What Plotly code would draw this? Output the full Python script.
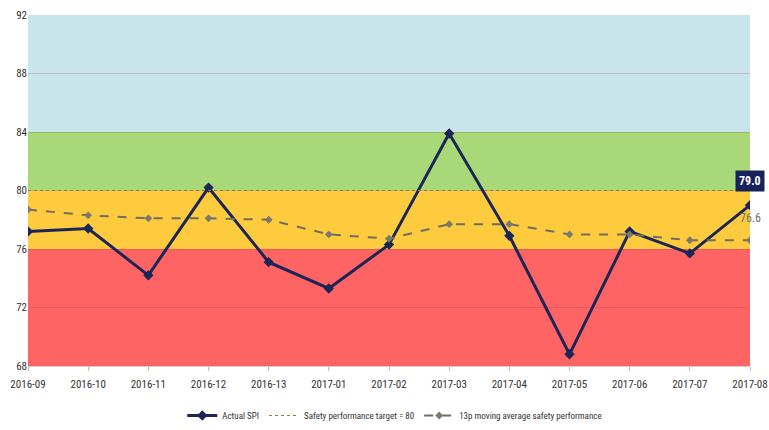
import plotly.graph_objects as go

# periods and series
periods = ["2016-09", "2016-10", "2016-11", "2016-12", "2016-13", "2017-01", "2017-02",
           "2017-03", "2017-04", "2017-05", "2017-06", "2017-07", "2017-08"]
actual_spi = [77.2, 77.4, 74.2, 80.2, 75.1, 73.3, 76.3, 83.9, 76.9, 68.8, 77.2, 75.7, 79.0]
moving_avg = [78.7, 78.3, 78.1, 78.1, 78.0, 77.0, 76.7, 77.7, 77.7, 77.0, 77.0, 76.6, 76.6]
target = [80] * len(periods)

# background performance bands (low, high, colour)
band_edges = [68, 76, 80, 84, 92]
band_colors = ["#FF6464", "#FFCB3E", "#A8D878", "#C8E5EC"]

FONT = "Liberation Sans Narrow, Arial Narrow, Roboto Condensed, Liberation Sans, sans-serif"

fig = go.Figure()

#* colour bands behind the data
for lo, hi, col in zip(band_edges[:-1], band_edges[1:], band_colors):
    fig.add_shape(type="rect", xref="paper", yref="y", x0=0, x1=1, y0=lo, y1=hi,
                  fillcolor=col, line_width=0, layer="below")

fig.add_trace(go.Scatter(x=periods, y=actual_spi, name="Actual SPI", mode="lines+markers",
                         line=dict(color="#1B2657", width=3),
                         marker=dict(symbol="diamond", size=8, color="#1B2657")))
fig.add_trace(go.Scatter(x=periods, y=target, name="Safety performance target = 80", mode="lines",
                         line=dict(color="#8A8040", width=1.2, dash="dot")))
fig.add_trace(go.Scatter(x=periods, y=moving_avg, name="13p moving average safety performance",
                         mode="lines+markers",
                         line=dict(color="#6E6E62", width=2, dash="dash"),
                         marker=dict(symbol="diamond", size=6, color="#7A7A6C")))

#! value labels for the last period
fig.add_annotation(x=periods[-1], y=80.65, text="<b>79.0</b>", showarrow=False,
                   font=dict(color="white", size=12, family=FONT),
                   bgcolor="#16235A", borderpad=3)
fig.add_annotation(x=periods[-1], y=78.1, text="76.6", showarrow=False,
                   font=dict(color="#6E6E62", size=12, family=FONT))

fig.update_layout(
    width=769, height=430,
    margin=dict(l=28, r=19, t=15, b=64),
    plot_bgcolor="white", paper_bgcolor="white",
    font=dict(family=FONT, size=11, color="#333"),
    showlegend=True,
    #! legend placed against the page so it does not squeeze the plot area
    legend=dict(orientation="h", x=0.508, xanchor="center", yref="container", y=0,
                yanchor="bottom", font=dict(size=9, family=FONT), itemwidth=30),
)
fig.update_xaxes(type="category", range=[0, len(periods) - 1], showgrid=False,
                 ticks="outside", ticklen=4, tickcolor="#bbb", showline=True,
                 linecolor="#ccc", tickfont=dict(size=11), automargin=False,
                 ticklabelstandoff=4)
fig.update_yaxes(range=[68, 92], dtick=4, tick0=68, showgrid=True,
                 gridcolor="rgba(150,60,60,0.25)", zeroline=False, showline=False,
                 tickfont=dict(size=11), automargin=False)

#! drop the browser's default 8px body margin so the figure fills the window
fig.write_html("out.html", config={"displayModeBar": False},
               post_script="document.body.style.margin='0';")
